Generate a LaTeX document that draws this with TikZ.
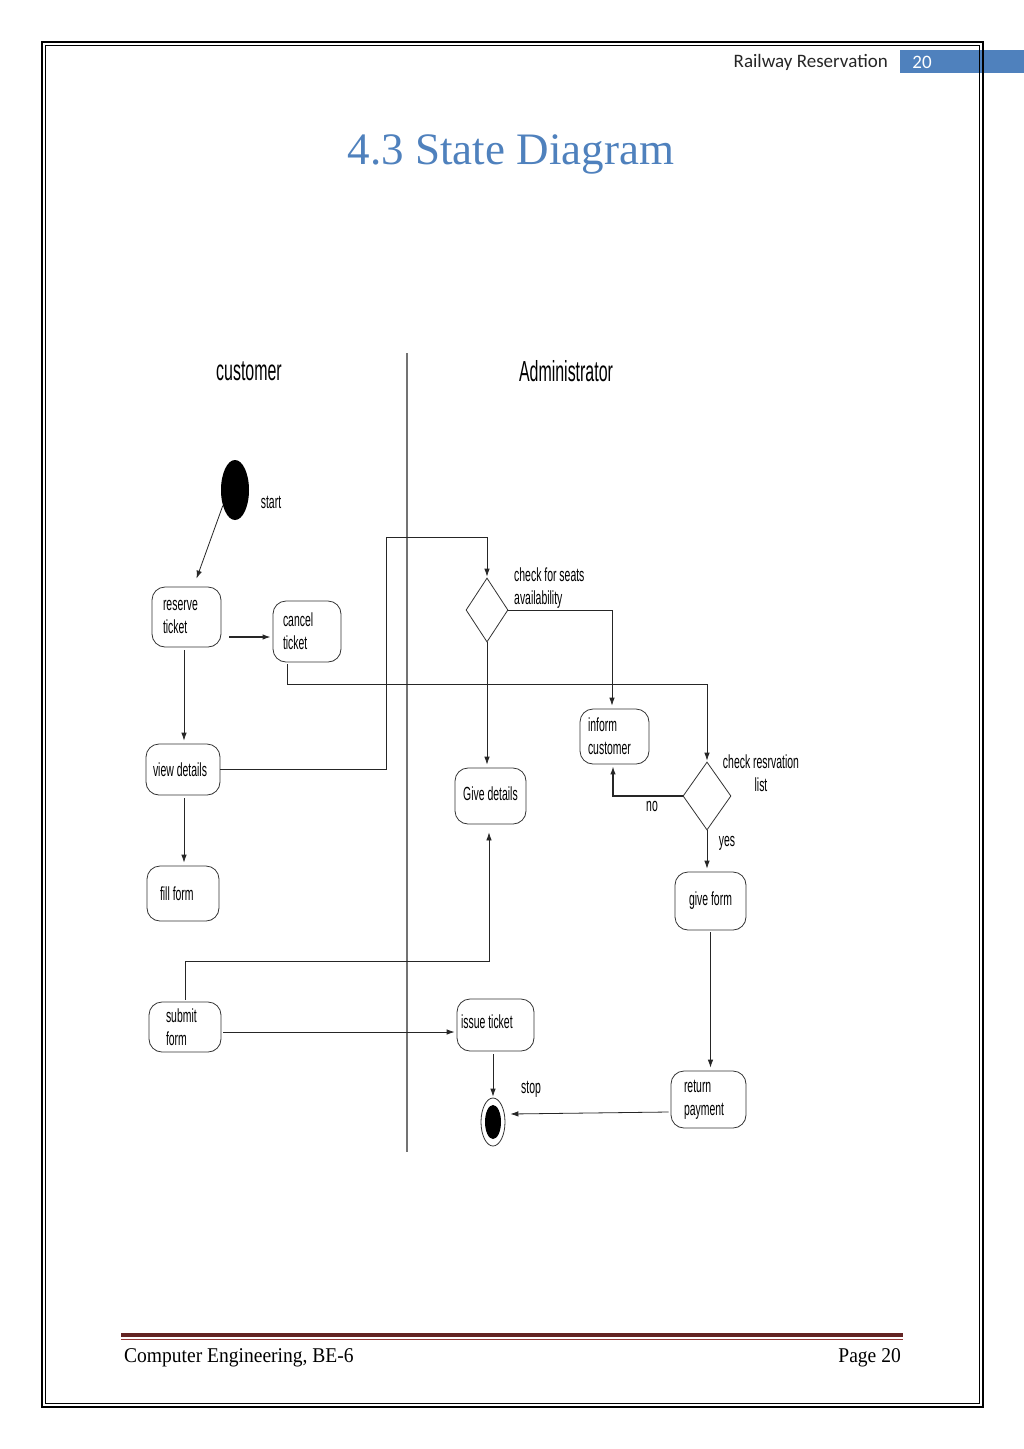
\documentclass[tikz,border=0pt]{standalone}
\usepackage{fontspec}
\setmainfont{Liberation Serif}
\newfontfamily\dfont[FakeStretch=0.55]{Liberation Sans}
\newfontfamily\hfont{Carlito}
\newfontfamily\ffont[FakeStretch=0.93]{Liberation Serif}
\usetikzlibrary{shapes.geometric,arrows.meta}
\definecolor{wordblue}{HTML}{4F81BD}
\definecolor{maroonA}{HTML}{632423}
\definecolor{maroonB}{HTML}{943634}
\begin{document}
\begin{tikzpicture}[x=1pt,y=-1pt,
  box/.style={draw=black!80, line width=0.8pt, rounded corners=13pt, inner ysep=0pt,
    font=\dfont\fontsize{19}{23}\selectfont, align=flush left},
  dia/.style={diamond, draw=black!80, line width=0.8pt, inner sep=0pt},
  conn/.style={draw=black!85, line width=0.8pt},
  arr/.style={conn, -{Latex[length=8pt,width=5.5pt]}},
  lab/.style={font=\dfont\fontsize{19}{23}\selectfont, inner sep=0pt},
  lane/.style={font=\dfont\fontsize{29}{32}\selectfont, inner sep=0pt}]
\useasboundingbox (0,0) rectangle (1024,1449);
\fill[white] (0,0) rectangle (1024,1449);

% header bar
\fill[wordblue] (900,50) rectangle (1024,73);
\node[font=\hfont\fontsize{19}{21}\selectfont, inner sep=0pt, anchor=east, text=black!85] (hdr) at (888,62) {Railway Reservation};
\node[font=\hfont\fontsize{19}{21}\selectfont, inner sep=0pt, text=white] (pno) at (922,62) {20};

% page frame
\draw[black, line width=1.4pt] (42,42) rectangle (983,1407);
\draw[black, line width=1.1pt] (45.5,45.5) rectangle (979.5,1403.5);

% title
\node[font=\fontsize{45}{50}\selectfont, text=wordblue, inner sep=0pt] (title) at (511,154) {4.3 State Diagram};

% swimlanes
\draw[black!55, line width=1.2pt] (407,353) -- (407,1152);
\node[lane] (lcust) at (249,371) {customer};
\node[lane] (ladm) at (566,371) {Administrator};

% start / stop
\node[ellipse, fill=black, minimum width=28pt, minimum height=60pt, inner sep=0pt] (start) at (235,490) {};
\node[lab] (lstart) at (271,502) {start};
\node[ellipse, draw=black!80, line width=0.8pt, minimum width=24pt, minimum height=48pt, inner sep=0pt] (stop) at (493,1122) {};
\node[ellipse, fill=black, minimum width=16pt, minimum height=34pt, inner sep=0pt] (stopin) at (493,1122) {};
\node[lab] (lstop) at (531,1089) {stop};

% states
\node[box, text width=47pt, inner xsep=11pt, minimum height=60pt] (reserve) at (186.5,617) {reserve\\ticket};
\node[box, text width=48pt, inner xsep=10pt, minimum height=61pt] (cancel) at (307,631.5) {cancel\\ticket};
\node[box, text width=60pt, inner xsep=7pt, minimum height=51pt] (view) at (183,769.5) {view details};
\node[box, text width=46pt, inner xsep=13pt, minimum height=55pt] (fill) at (183,893.5) {fill form};
\node[box, text width=38pt, inner xsep=17pt, minimum height=50pt] (submit) at (185,1027) {submit\\form};
\node[box, text width=69pt, inner xsep=4pt, minimum height=52pt] (issue) at (495.5,1025) {\raisebox{6pt}{issue ticket}};
\node[box, text width=61pt, inner xsep=5pt, minimum height=56pt, align=flush center] (gived) at (490.5,796) {\raisebox{4pt}{Give details}};
\node[box, text width=53pt, inner xsep=8pt, minimum height=55pt] (inform) at (614.5,736.5) {inform\\customer};
\node[box, text width=61pt, inner xsep=5pt, minimum height=58pt, align=flush center] (giveform) at (710.5,901) {give form};
\node[box, text width=49pt, inner xsep=13pt, minimum height=57pt] (ret) at (708.5,1099.5) {return\\payment};

% decisions
\node[dia, minimum width=42pt, minimum height=64pt] (d1) at (487,610) {};
\node[lab, align=left, anchor=west] (ld1) at (514,588) {check for seats\\availability};
\node[dia, minimum width=48pt, minimum height=68pt] (d2) at (707,796) {};
\node[lab, align=center] (ld2) at (761,773) {check resrvation\\list};
\node[lab] (lno) at (652,806) {no};
\node[lab] (lyes) at (727,843) {yes};

% junction points
\coordinate (j1) at (386,537);
\coordinate (j2) at (287,684);
\coordinate (j3) at (185,961);

% connectors
\draw[arr] (start.-128) -- ([shift={(10,-8)}]reserve.north);
\draw[arr, line width=1.2pt] ([shift={(8,20)}]reserve.east) -- ([shift={(-2,5.5)}]cancel.west);
\draw[arr] (reserve.south -| view.north) ++(1,3) -- ([shift={(1,-3)}]view.north);
\draw[arr] ([shift={(1,3)}]view.south) -- ([shift={(1,-3)}]fill.north);
\draw[arr] (view.east) -| (j1) -| ([shift={(0,-1)}]d1.north);
\draw[arr] (d1.east) -| ([shift={(-2.5,-3)}]inform.north);
\draw[arr] (d1.south) -- ([shift={(-3.5,-3)}]gived.north);
\draw[arr] ([shift={(-20,2)}]cancel.south) -- (j2) -| ([shift={(0,-1)}]d2.north);
\draw[arr, line width=1.3pt] (d2.west) -| ([shift={(-1.5,2)}]inform.south);
\draw[arr] (d2.south) -- ([shift={(-3.5,-3)}]giveform.north);
\draw[arr] ([shift={(0,2)}]giveform.south) -- ([shift={(2,-3)}]ret.north);
\draw[arr] ([shift={(-2,12.5)}]ret.west) -- ([shift={(5,-8)}]stop.east);
\draw[arr] ([shift={(-2.5,3)}]issue.south) -- ([shift={(0,-1)}]stop.north);
\draw[arr] ([shift={(2,5)}]submit.east) -- ([shift={(-2,7)}]issue.west);
\draw[arr] ([shift={(0,-2)}]submit.north) -- (j3) -| ([shift={(-1.5,8)}]gived.south);

% footer
\draw[maroonA, line width=4pt] (121,1335) -- (903,1335);
\draw[maroonB, line width=1pt] (121,1339.5) -- (903,1339.5);
\node[font=\ffont\fontsize{21}{24}\selectfont, inner sep=0pt, anchor=base west] (fl) at (124,1362) {Computer Engineering, BE-6};
\node[font=\ffont\fontsize{21}{24}\selectfont, inner sep=0pt, anchor=base east] (fr) at (901,1362) {Page 20};
\end{tikzpicture}
\end{document}
